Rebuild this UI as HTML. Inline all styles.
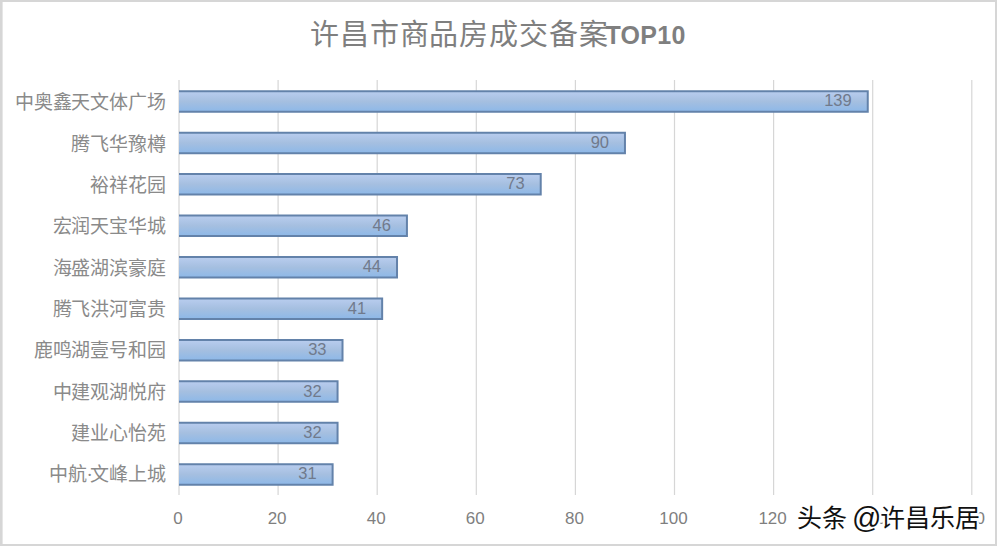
<!DOCTYPE html>
<html lang="zh-CN"><head><meta charset="utf-8">
<style>
html,body{margin:0;padding:0;background:#fff;}
body{width:997px;height:546px;position:relative;overflow:hidden;font-family:"Liberation Sans",sans-serif;}
.frame{position:absolute;left:0;top:0;width:997px;height:546px;}
.t{position:absolute;white-space:nowrap;line-height:1;}
.title{left:310px;top:21px;font-size:29px;color:#7f7f7f;font-family:"Liberation Serif",serif;letter-spacing:0.85px;}
.title b{font-family:"Liberation Sans",sans-serif;font-weight:bold;font-size:25px;letter-spacing:0.3px;position:relative;top:-1px;margin-left:-3px;}
.lab{font-size:19px;letter-spacing:-0.2px;color:#8a8a8a;font-family:"Liberation Serif",serif;}
.ax{font-size:17px;color:#7f7f7f;top:509.5px;}
.dl{font-size:16.5px;color:#707a8c;}
.wm{left:797px;top:502.5px;font-size:25px;color:#111;text-shadow:2px 0 1px #fff,-2px 0 1px #fff,0 2px 1px #fff,0 -2px 1px #fff,2px 2px 1px #fff,-2px -2px 1px #fff,2px -2px 1px #fff,-2px 2px 1px #fff;font-family:"Liberation Sans",sans-serif;}
</style></head><body>
<svg class="frame" width="997" height="546" viewBox="0 0 997 546">
<defs>
<linearGradient id="g" x1="0" y1="0" x2="0" y2="1">
<stop offset="0" stop-color="#b9cdef"/>
<stop offset="0.5" stop-color="#a5bfe0"/>
<stop offset="1" stop-color="#8db8e8"/>
</linearGradient>
</defs>
<rect x="0" y="0" width="997" height="546" fill="#fff"/>
<rect x="1" y="1" width="995" height="544" fill="none" stroke="#d6d6d6" stroke-width="2"/>
<line x1="2.5" y1="2" x2="2.5" y2="544" stroke="#e6e6e6" stroke-width="1"/>

<line x1="179.00" y1="80" x2="179.00" y2="495" stroke="#d6d6d6" stroke-width="1.2"/>
<line x1="278.10" y1="80" x2="278.10" y2="495" stroke="#d6d6d6" stroke-width="1.2"/>
<line x1="377.20" y1="80" x2="377.20" y2="495" stroke="#d6d6d6" stroke-width="1.2"/>
<line x1="476.30" y1="80" x2="476.30" y2="495" stroke="#d6d6d6" stroke-width="1.2"/>
<line x1="575.40" y1="80" x2="575.40" y2="495" stroke="#d6d6d6" stroke-width="1.2"/>
<line x1="674.50" y1="80" x2="674.50" y2="495" stroke="#d6d6d6" stroke-width="1.2"/>
<line x1="773.60" y1="80" x2="773.60" y2="495" stroke="#d6d6d6" stroke-width="1.2"/>
<line x1="872.70" y1="80" x2="872.70" y2="495" stroke="#d6d6d6" stroke-width="1.2"/>
<line x1="971.80" y1="80" x2="971.80" y2="495" stroke="#d6d6d6" stroke-width="1.2"/>
<rect x="179.00" y="91.20" width="688.75" height="20.5" fill="url(#g)"/>
<path d="M179.00 91.20H867.75V111.70H179.00" fill="none" stroke="#6382aa" stroke-width="2"/>
<rect x="179.00" y="132.65" width="445.95" height="20.5" fill="url(#g)"/>
<path d="M179.00 132.65H624.95V153.15H179.00" fill="none" stroke="#6382aa" stroke-width="2"/>
<rect x="179.00" y="174.10" width="361.72" height="20.5" fill="url(#g)"/>
<path d="M179.00 174.10H540.72V194.60H179.00" fill="none" stroke="#6382aa" stroke-width="2"/>
<rect x="179.00" y="215.55" width="227.93" height="20.5" fill="url(#g)"/>
<path d="M179.00 215.55H406.93V236.05H179.00" fill="none" stroke="#6382aa" stroke-width="2"/>
<rect x="179.00" y="257.00" width="218.02" height="20.5" fill="url(#g)"/>
<path d="M179.00 257.00H397.02V277.50H179.00" fill="none" stroke="#6382aa" stroke-width="2"/>
<rect x="179.00" y="298.45" width="203.16" height="20.5" fill="url(#g)"/>
<path d="M179.00 298.45H382.15V318.95H179.00" fill="none" stroke="#6382aa" stroke-width="2"/>
<rect x="179.00" y="339.90" width="163.52" height="20.5" fill="url(#g)"/>
<path d="M179.00 339.90H342.51V360.40H179.00" fill="none" stroke="#6382aa" stroke-width="2"/>
<rect x="179.00" y="381.35" width="158.56" height="20.5" fill="url(#g)"/>
<path d="M179.00 381.35H337.56V401.85H179.00" fill="none" stroke="#6382aa" stroke-width="2"/>
<rect x="179.00" y="422.80" width="158.56" height="20.5" fill="url(#g)"/>
<path d="M179.00 422.80H337.56V443.30H179.00" fill="none" stroke="#6382aa" stroke-width="2"/>
<rect x="179.00" y="464.25" width="153.60" height="20.5" fill="url(#g)"/>
<path d="M179.00 464.25H332.61V484.75H179.00" fill="none" stroke="#6382aa" stroke-width="2"/>
</svg>
<div class="t title">许昌市商品房成交备案<b>TOP10</b></div>
<div class="t lab" style="right:831.5px;top:93.4px">中奥鑫天文体广场</div>
<div class="t lab" style="right:831.5px;top:134.7px">腾飞华豫樽</div>
<div class="t lab" style="right:831.5px;top:176.0px">裕祥花园</div>
<div class="t lab" style="right:831.5px;top:217.3px">宏润天宝华城</div>
<div class="t lab" style="right:831.5px;top:258.6px">海盛湖滨豪庭</div>
<div class="t lab" style="right:831.5px;top:299.9px">腾飞洪河富贵</div>
<div class="t lab" style="right:831.5px;top:341.2px">鹿鸣湖壹号和园</div>
<div class="t lab" style="right:831.5px;top:382.5px">中建观湖悦府</div>
<div class="t lab" style="right:831.5px;top:423.8px">建业心怡苑</div>
<div class="t lab" style="right:831.5px;top:465.1px">中航<span style="letter-spacing:-2.5px">·</span>文峰上城</div>
<div class="t ax" style="left:128.0px;width:100px;text-align:center">0</div>
<div class="t ax" style="left:227.1px;width:100px;text-align:center">20</div>
<div class="t ax" style="left:326.2px;width:100px;text-align:center">40</div>
<div class="t ax" style="left:425.3px;width:100px;text-align:center">60</div>
<div class="t ax" style="left:524.4px;width:100px;text-align:center">80</div>
<div class="t ax" style="left:623.5px;width:100px;text-align:center">100</div>
<div class="t ax" style="left:722.6px;width:100px;text-align:center">120</div>
<div class="t ax" style="left:821.7px;width:100px;text-align:center">140</div>
<div class="t ax" style="left:920.8px;width:100px;text-align:center">160</div>
<div class="t dl" style="right:145.3px;top:92.4px">139</div>
<div class="t dl" style="right:388.0px;top:133.8px">90</div>
<div class="t dl" style="right:472.3px;top:175.3px">73</div>
<div class="t dl" style="right:606.1px;top:216.8px">46</div>
<div class="t dl" style="right:616.0px;top:258.2px">44</div>
<div class="t dl" style="right:630.8px;top:299.6px">41</div>
<div class="t dl" style="right:670.5px;top:341.1px">33</div>
<div class="t dl" style="right:675.4px;top:382.6px">32</div>
<div class="t dl" style="right:675.4px;top:424.0px">32</div>
<div class="t dl" style="right:680.4px;top:465.4px">31</div>
<div class="t wm">头条 <span style="font-size:29px;position:relative;top:1px;margin-left:-2px;margin-right:-1px">@</span>许昌乐居</div>
</body></html>
